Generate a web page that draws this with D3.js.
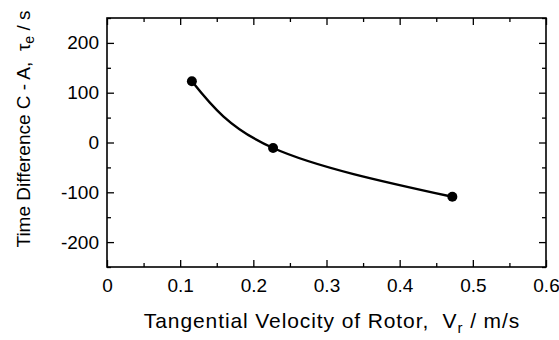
<!DOCTYPE html>
<html>
<head>
<meta charset="utf-8">
<script src="https://cdn.jsdelivr.net/npm/d3@7"></script>
<style>
  html, body { margin: 0; padding: 0; background: #fff; }
  svg { display: block; font-family: "Liberation Sans", Arial, sans-serif; }
</style>
</head>
<body>
<div id="chart"></div>
<script>
// measured points (velocity m/s, time difference s)
const velocity = [0.116, 0.227, 0.472];
const timeDiff = [123, -11, -109];

const xTicks = [0, 0.1, 0.2, 0.3, 0.4, 0.5, 0.6];
const xMinor = [0.05, 0.15, 0.25, 0.35, 0.45, 0.55];
const yTicks = [-200, -100, 0, 100, 200];
const yMinor = [-250, -150, -50, 50, 150, 250];

const width = 559, height = 340;
const margin = { top: 18, right: 13, bottom: 73, left: 107 };
const iw = width - margin.left - margin.right;
const ih = height - margin.top - margin.bottom;

const svg = d3.select("#chart").append("svg")
  .attr("width", width)
  .attr("height", height);

const g = svg.append("g")
  .attr("transform", `translate(${margin.left},${margin.top})`);

const x = d3.scaleLinear().domain([0, 0.6]).range([0, iw]);
const y = d3.scaleLinear().domain([-250, 250]).range([ih, 0]);

/* ─── ticks, all pointing inward ─── */
const major = 7, minor = 4;
const plain = d => String(d);   // keep ascii hyphen for negatives
const tickStyle = sel => sel
  .call(s => s.select(".domain").remove())
  .call(s => s.selectAll("line").attr("stroke", "#000").attr("stroke-width", 1.3))
  .call(s => s.selectAll("text").attr("fill", "#000").attr("font-size", 19));

g.append("g").attr("transform", `translate(0,${ih})`)
  .call(d3.axisBottom(x).tickValues(xTicks).tickSize(-major).tickPadding(12).tickFormat(plain))
  .call(tickStyle);
g.append("g").attr("transform", `translate(0,${ih})`)
  .call(d3.axisBottom(x).tickValues(xMinor).tickSize(-minor).tickFormat(""))
  .call(tickStyle);
g.append("g")
  .call(d3.axisTop(x).tickValues(xTicks).tickSize(-major).tickFormat(""))
  .call(tickStyle);
g.append("g")
  .call(d3.axisTop(x).tickValues(xMinor).tickSize(-minor).tickFormat(""))
  .call(tickStyle);

g.append("g")
  .call(d3.axisLeft(y).tickValues(yTicks).tickSize(-major).tickPadding(8).tickFormat(plain))
  .call(tickStyle);
g.append("g")
  .call(d3.axisLeft(y).tickValues(yMinor).tickSize(-minor).tickFormat(""))
  .call(tickStyle);
g.append("g").attr("transform", `translate(${iw},0)`)
  .call(d3.axisRight(y).tickValues(yTicks).tickSize(-major).tickFormat(""))
  .call(tickStyle);
g.append("g").attr("transform", `translate(${iw},0)`)
  .call(d3.axisRight(y).tickValues(yMinor).tickSize(-minor).tickFormat(""))
  .call(tickStyle);

/* ─── frame ─── */
g.append("rect")
  .attr("width", iw)
  .attr("height", ih)
  .attr("fill", "none")
  .attr("stroke", "#000")
  .attr("stroke-width", 1.6);

/* ─── curve + points ─── */
const pts = velocity.map((v, i) => [v, timeDiff[i]]);

g.append("path")
  .datum(pts)
  .attr("fill", "none")
  .attr("stroke", "#000")
  .attr("stroke-width", 2.4)
  .attr("d", d3.line().x(d => x(d[0])).y(d => y(d[1])).curve(d3.curveNatural));

g.selectAll(".pt")
  .data(pts)
  .enter()
  .append("circle")
  .attr("cx", d => x(d[0]))
  .attr("cy", d => y(d[1]))
  .attr("r", 5)
  .attr("fill", "#000");

/* ─── axis titles ─── */
const xt = svg.append("text")
  .attr("x", 332)
  .attr("y", 328)
  .attr("text-anchor", "middle")
  .attr("letter-spacing", 0.9)
  .attr("font-size", 21);
xt.append("tspan").text("Tangential Velocity of Rotor,\u00a0\u00a0V");
xt.append("tspan").attr("font-size", 15).attr("dy", 5).text("r");
xt.append("tspan").attr("dy", -5).text(" / m/s");

const yt = svg.append("text")
  .attr("transform", "translate(30,129) rotate(-90)")
  .attr("text-anchor", "middle")
  .attr("font-size", 19);
yt.append("tspan").text("Time Difference C - A,\u00a0\u00a0\u03c4");
yt.append("tspan").attr("font-size", 14).attr("dy", 4).text("e");
yt.append("tspan").attr("dy", -4).text(" / s");
</script>
</body>
</html>
